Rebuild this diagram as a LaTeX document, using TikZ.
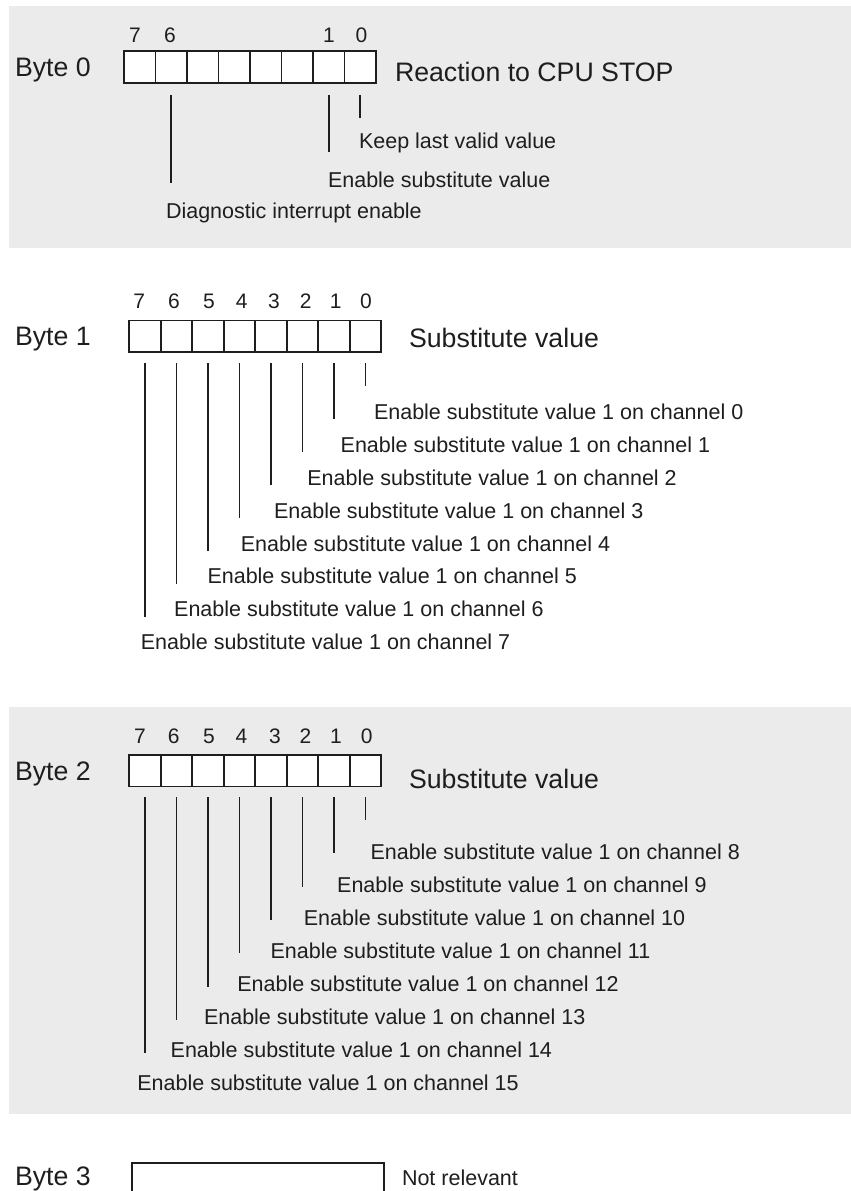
\documentclass[tikz,border=0pt]{standalone}
\usepackage{fontspec}
\setmainfont{Liberation Sans}
\usetikzlibrary{calc}
\definecolor{bandgray}{HTML}{EBEBEB}
\definecolor{ink}{HTML}{1E1E1E}
\tikzset{
  cell/.style={draw=ink, fill=white, line width=1.8bp, minimum width=31.5bp, minimum height=31.5bp, inner sep=0pt, outer sep=0pt},
  lead/.style={draw=ink, line width=1.8bp},
  desc/.style={anchor=base west, inner sep=0pt, outer sep=0pt, text=ink, font=\fontsize{21.5bp}{26bp}\selectfont},
  bytetitle/.style={anchor=base west, inner sep=0pt, outer sep=0pt, text=ink, font=\fontsize{26.7bp}{32bp}\selectfont},
  bitnum/.style={anchor=base, inner sep=0pt, outer sep=0pt, text=ink, font=\fontsize{21bp}{25bp}\selectfont},
}
\begin{document}
\begin{tikzpicture}[x=1bp,y=-1bp]
\useasboundingbox (0,0) rectangle (851,1191);
\clip (0,0) rectangle (851,1191);
% bands
\fill[bandgray] (9,6) rectangle (851,248);
\fill[bandgray] (9,707.3) rectangle (851,1114.3);

% ---------------- Byte 0
\node[bytetitle] (lbl0) at (15,76) {Byte 0};
\foreach \k in {0,...,7} {
  \node[cell] (b0c\k) at ({139.75+31.5*(7-\k)},67) {};
}
\node[bitnum] (b0n7) at (135,42) {7};
\node[bitnum] (b0n6) at (170,42) {6};
\node[bitnum] (b0n1) at (329,42) {1};
\node[bitnum] (b0n0) at (361.5,42) {0};
\node[bytetitle] (t0) at (395,81.5) {Reaction to CPU STOP};
\coordinate (b0s6) at ($(b0c6.south)+(0,12)$);
\coordinate (b0e6) at ($(b0c6.south)+(0,100)$);
\coordinate (b0s1) at ($(b0c1.south)+(0,12)$);
\coordinate (b0e1) at ($(b0c1.south)+(0,69)$);
\coordinate (b0s0) at ($(b0c0.south)+(0,12)$);
\coordinate (b0e0) at ($(b0c0.south)+(0,35)$);
\draw[lead] (b0s6) -- (b0e6);
\draw[lead] (b0s1) -- (b0e1);
\draw[lead] (b0s0) -- (b0e0);
\node[desc] (d0k) at (359,148) {Keep last valid value};
\node[desc] (d0e) at (328,187) {Enable substitute value};
\node[desc] (d0d) at (166,218) {Diagnostic interrupt enable};

% ---------------- Byte 1
\node[bytetitle] (lbl1) at (15,345.5) {Byte 1};
\foreach \k in {0,...,7} {
  \node[cell] (b1c\k) at ({145.05+31.5*(7-\k)},336.25) {};
}
\foreach \k/\x in {7/139.3,6/174,5/209,4/241.7,3/274,2/305.7,1/335.7,0/366} {
  \node[bitnum] (b1n\k) at (\x,308.5) {\k};
}
\node[bytetitle] (t1) at (409,347.5) {Substitute value};
\foreach \k in {0,...,7} {
  \coordinate (b1s\k) at ($(b1c\k.south)+(0,11)$);
  \coordinate (b1e\k) at ($(b1c\k.south)+(0,{34+33*\k})$);
  \draw[lead] (b1s\k) -- (b1e\k);
  \node[desc] (d1\k) at ({374-33.3*\k},{419.4+32.9*\k}) {Enable substitute value 1 on channel \k};
}

% ---------------- Byte 2
\node[bytetitle] (lbl2) at (15,780) {Byte 2};
\foreach \k in {0,...,7} {
  \node[cell] (b2c\k) at ({145.05+31.5*(7-\k)},770.75) {};
}
\foreach \k/\x in {7/140,6/173.6,5/209,4/241.5,3/275,2/305.5,1/336,0/366.8} {
  \node[bitnum] (b2n\k) at (\x,743.4) {\k};
}
\node[bytetitle] (t2) at (409,788) {Substitute value};
\foreach \k in {0,...,7} {
  \pgfmathtruncatemacro{\ch}{\k+8}
  \coordinate (b2s\k) at ($(b2c\k.south)+(0,10.5)$);
  \coordinate (b2e\k) at ($(b2c\k.south)+(0,{33.5+33.3*\k})$);
  \draw[lead] (b2s\k) -- (b2e\k);
  \node[desc] (d2\k) at ({370.5-33.3*\k},{859.7+33*\k}) {Enable substitute value 1 on channel \ch};
}

% ---------------- Byte 3
\node[bytetitle] (lbl3) at (15,1185) {Byte 3};
\node[draw=ink, fill=white, line width=1.8bp, minimum width=251.9bp, minimum height=45bp, inner sep=0pt, outer sep=0pt, anchor=north west] (b3box) at (131.7,1163) {};
\node[desc] (t3) at (402,1185) {Not relevant};
\end{tikzpicture}
\end{document}
